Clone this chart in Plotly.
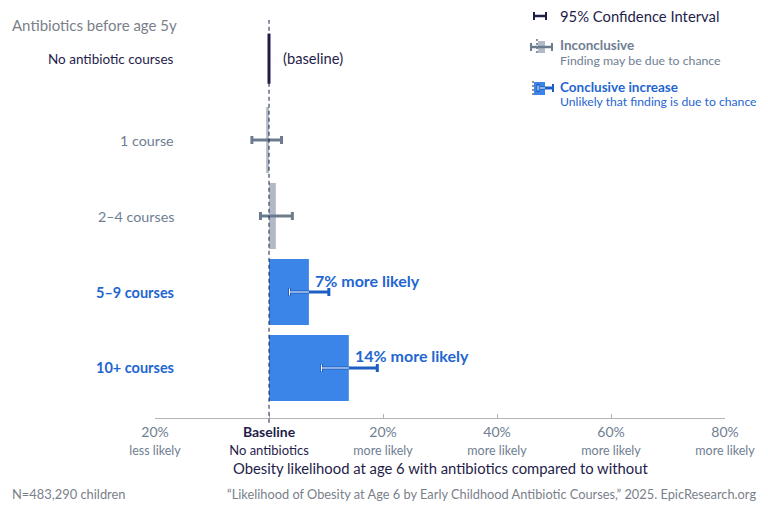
import plotly.graph_objects as go

# ---------------- data ----------------
categories = ["No antibiotic courses", "1 course", "2–4 courses", "5–9 courses", "10+ courses"]
pct_change = [0.0, -0.5, 1.2, 7.0, 14.0]
ci_low = [None, -3.0, -1.5, 3.6, 9.2]
ci_high = [None, 2.2, 4.1, 10.5, 19.0]
status = ["baseline", "inconclusive", "inconclusive", "conclusive", "conclusive"]
bar_labels = ["(baseline)", "", "", "7% more likely", "14% more likely"]
x_tickvals = [-20, 0, 20, 40, 60, 80]
x_tick_top = ["20%", "Baseline", "20%", "40%", "60%", "80%"]
x_tick_bottom = ["less likely", "No antibiotics", "more likely", "more likely", "more likely", "more likely"]

# ---------------- layout / style ----------------
row_pos = [-0.07, 1, 2, 3, 4]
W, H = 768, 512
ML, MR, MT, MB = 155, 43, 20, 94
PW, PH = W - ML - MR, H - MT - MB

NAVY = "#1f1d4a"
GRAY_TXT = "#6f7e92"
GRAY_HDR = "#7a7f8a"
GRAY_BAR = "#b2bac6"
GRAY_ERR = "#6b7c8f"
BLUE_BAR = "#3b84e8"
BLUE_TXT = "#1f66d1"
BLUE_ERR = "#1d5ec4"
FONT = "Lato"

def px(x):
    return (x - ML) / PW

def py(y):
    return (H - MB - y) / PH

fig = go.Figure()

# bars (non-baseline)
for i in range(1, len(categories)):
    col = BLUE_BAR if status[i] == "conclusive" else GRAY_BAR
    fig.add_trace(go.Bar(
        x=[pct_change[i]], y=[row_pos[i]], orientation="h", width=0.87,
        marker=dict(color=col, line=dict(width=0)), hoverinfo="skip", showlegend=False))

# baseline marker
fig.add_trace(go.Scatter(
    x=[pct_change[0], pct_change[0]], y=[row_pos[0] - 0.33, row_pos[0] + 0.33],
    mode="lines", line=dict(color=NAVY, width=3), hoverinfo="skip", showlegend=False))

# error bars
for i in range(1, len(categories)):
    conc = status[i] == "conclusive"
    col = BLUE_ERR if conc else GRAY_ERR
    fig.add_trace(go.Scatter(
        x=[pct_change[i]], y=[row_pos[i]], mode="markers",
        marker=dict(size=1, opacity=0),
        error_x=dict(type="data", symmetric=False,
                     array=[ci_high[i] - pct_change[i]],
                     arrayminus=[pct_change[i] - ci_low[i]],
                     color=col, thickness=3, width=4),
        hoverinfo="skip", showlegend=False))
    if conc:
        inner_end = min(pct_change[i], ci_high[i])
        fig.add_trace(go.Scatter(
            x=[ci_low[i], inner_end], y=[row_pos[i], row_pos[i]], mode="lines",
            line=dict(color="white", width=1), hoverinfo="skip", showlegend=False))
        fig.add_trace(go.Scatter(
            x=[ci_low[i]], y=[row_pos[i]], mode="markers",
            marker=dict(symbol="line-ns", size=5, line=dict(color="white", width=1)),
            hoverinfo="skip", showlegend=False))

shapes = []
# dashed zero line
shapes.append(dict(type="line", xref="x", yref="paper", x0=0, x1=0, y0=-0.012, y1=1,
                   line=dict(color=NAVY, width=1, dash="4px,3px"), layer="above"))

annotations = []
# category labels
for i, c in enumerate(categories):
    if status[i] == "baseline":
        txt, col, sz = c, NAVY, 13.5
    elif status[i] == "inconclusive":
        txt, col, sz = c, GRAY_TXT, 14.3
    else:
        txt, col, sz = "<b>" + c + "</b>", BLUE_TXT, 14.5
    annotations.append(dict(text=txt, xref="paper", yref="y", x=px(176), y=row_pos[i],
                            xanchor="right", yanchor="middle", showarrow=False,
                            font=dict(family=FONT, size=sz, color=col)))
# bar value labels
for i, lab in enumerate(bar_labels):
    if not lab:
        continue
    if status[i] == "baseline":
        annotations.append(dict(text=lab, xref="x", yref="y", x=pct_change[i], y=row_pos[i],
                                xanchor="left", yanchor="middle", xshift=12, yshift=1, showarrow=False,
                                font=dict(family=FONT, size=14.7, color=NAVY)))
    else:
        annotations.append(dict(text="<b>" + lab + "</b>", xref="x", yref="y", x=pct_change[i], y=row_pos[i],
                                xanchor="left", yanchor="middle", xshift=4, yshift=12, showarrow=False,
                                font=dict(family=FONT, size=16, color=BLUE_TXT)))
# header
annotations.append(dict(text="Antibiotics before age 5y", xref="paper", yref="paper", x=px(10), y=py(25),
                        xanchor="left", yanchor="middle", showarrow=False,
                        font=dict(family=FONT, size=15, color=GRAY_HDR)))
# axis title
annotations.append(dict(text="Obesity likelihood at age 6 with antibiotics compared to without",
                        xref="paper", yref="paper", x=0.5, y=py(468), xanchor="center", yanchor="middle",
                        showarrow=False, font=dict(family=FONT, size=14.8, color=NAVY)))
# footers
annotations.append(dict(text="N=483,290 children", xref="paper", yref="paper", x=px(10), y=py(494),
                        xanchor="left", yanchor="middle", showarrow=False,
                        font=dict(family=FONT, size=12.9, color=GRAY_HDR)))
annotations.append(dict(text="“Likelihood of Obesity at Age 6 by Early Childhood Antibiotic Courses,” 2025. EpicResearch.org",
                        xref="paper", yref="paper", x=px(758), y=py(494), xanchor="right", yanchor="middle",
                        showarrow=False, font=dict(family=FONT, size=12.8, color=GRAY_HDR)))

# legend texts
leg = [
    ("95% Confidence Interval", 16, 14.8, NAVY, False),
    ("Inconclusive", 45.5, 13.5, GRAY_TXT, True),
    ("Finding may be due to chance", 60.5, 12.3, GRAY_TXT, False),
    ("Conclusive increase", 86.5, 13.5, BLUE_TXT, True),
    ("Unlikely that finding is due to chance", 101.5, 12.2, BLUE_TXT, False),
]
for t, yy, sz, col, b in leg:
    annotations.append(dict(text=("<b>%s</b>" % t) if b else t, xref="paper", yref="paper",
                            x=px(559), y=py(yy), xanchor="left", yanchor="middle", showarrow=False,
                            borderpad=0, font=dict(family=FONT, size=sz, color=col)))

def pline(x0, y0, x1, y1, col, w, dash=None):
    d = dict(type="line", xref="paper", yref="paper", x0=px(x0), y0=py(y0), x1=px(x1), y1=py(y1),
             line=dict(color=col, width=w))
    if dash:
        d["line"]["dash"] = dash
    return d

def prect(x0, y0, x1, y1, col):
    return dict(type="rect", xref="paper", yref="paper", x0=px(x0), y0=py(y0), x1=px(x1), y1=py(y1),
                fillcolor=col, line=dict(width=0))

# legend icon: CI
shapes += [pline(533, 16, 547, 16, NAVY, 2.5), pline(534, 12, 534, 20, NAVY, 2), pline(546, 12, 546, 20, NAVY, 2)]
# legend icon: inconclusive
shapes += [prect(538, 41, 545, 53, GRAY_BAR),
           pline(537, 39, 537, 55, NAVY, 1, "2px,2px"),
           pline(531, 47, 552, 47, GRAY_ERR, 2.5),
           pline(531, 43, 531, 51, GRAY_ERR, 2), pline(552, 43, 552, 51, GRAY_ERR, 2)]
# legend icon: conclusive
shapes += [prect(534, 82, 545, 95, BLUE_BAR),
           pline(533, 81, 533, 96, NAVY, 1, "2px,2px"),
           pline(538, 88, 553, 88, BLUE_ERR, 3),
           pline(539, 88, 545, 88, "white", 1),
           pline(538, 84, 538, 92, BLUE_ERR, 3),
           pline(538, 85.5, 538, 90.5, "white", 1),
           pline(553, 84, 553, 92, BLUE_ERR, 2)]

ticktext = []
for i, (a, b) in enumerate(zip(x_tick_top, x_tick_bottom)):
    if x_tickvals[i] == 0:
        ticktext.append('<span style="color:%s"><b>%s</b><br><span style="font-size:13px">%s</span></span>' % (NAVY, a, b))
    else:
        ticktext.append('%s<br><span style="font-size:12.5px">%s</span>' % (a, b))

fig.update_layout(
    width=W, height=H,
    margin=dict(l=ML, r=MR, t=MT, b=MB),
    paper_bgcolor="white", plot_bgcolor="white",
    barmode="overlay",
    showlegend=False,
    xaxis=dict(range=[-20, 80], tickvals=x_tickvals, ticktext=ticktext, showgrid=False, zeroline=False,
               showline=True, linecolor="#b3b3b3", linewidth=1, ticks="inside", ticklen=4,
               tickcolor="#b3b3b3", tickfont=dict(family=FONT, size=14, color=GRAY_TXT),
               ticklabelstandoff=1, fixedrange=True),
    yaxis=dict(range=[4.658, -0.579], showticklabels=False, showgrid=False, zeroline=False,
               showline=False, ticks="", fixedrange=True),
    shapes=shapes,
    annotations=annotations,
    font=dict(family=FONT),
)

fig.write_html("out.html")
